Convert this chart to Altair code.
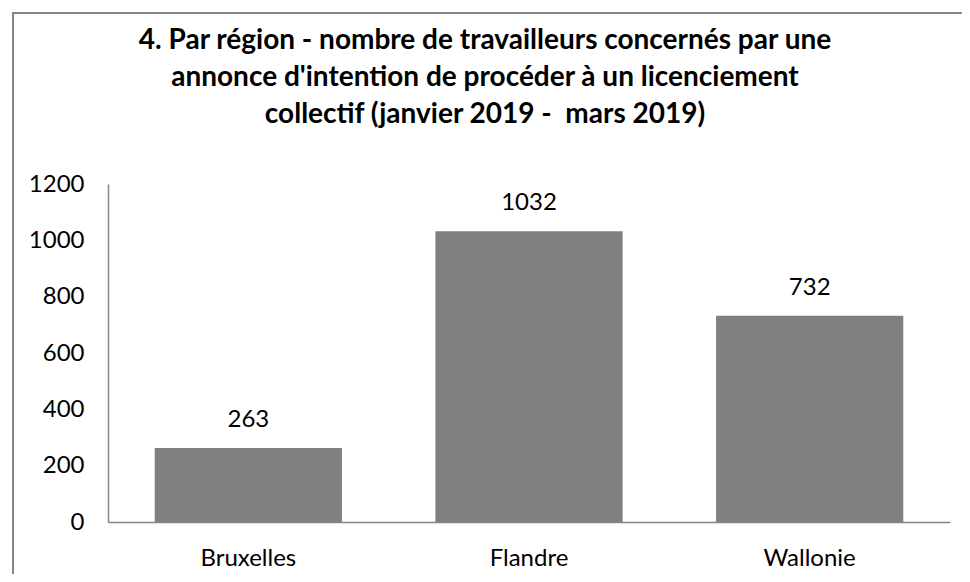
import altair as alt
import pandas as pd

regions = ["Bruxelles", "Flandre", "Wallonie"]
workers = [263, 1032, 732]
title_lines = [
    "4. Par région - nombre de travailleurs concernés par une",
    "annonce d'intention de procéder à un licenciement",
    "collectif (janvier 2019 -\u00a0 mars 2019)",
]
y_ticks = [0, 200, 400, 600, 800, 1000, 1200]

df = pd.DataFrame({"region": regions, "workers": workers})

FONT = "Lato"

base = alt.Chart(df).encode(
    x=alt.X(
        "region:N",
        sort=regions,
        title=None,
        scale=alt.Scale(paddingInner=0.333, paddingOuter=0.1665),
        axis=alt.Axis(
            labelAngle=0,
            ticks=False,
            domainColor="#868686",
            domainWidth=1.5,
            labelFont=FONT,
            labelFontSize=24,
            labelColor="#000000",
            labelPadding=24,
        ),
    ),
    y=alt.Y(
        "workers:Q",
        title=None,
        scale=alt.Scale(domain=[0, 1200], nice=False),
        axis=alt.Axis(
            values=y_ticks,
            format="d",
            grid=False,
            ticks=False,
            domainColor="#868686",
            domainWidth=1.5,
            labelFont=FONT,
            labelFontSize=24,
            labelColor="#000000",
            labelPadding=24,
        ),
    ),
)

bars = base.mark_bar(color="#808080")
labels = base.mark_text(
    baseline="bottom", dy=-16, font=FONT, fontSize=24, color="#000000"
).encode(text="workers:Q")

border = alt.Chart(df).mark_rect(
    fill=None, stroke="#868686", strokeWidth=2, clip=False
).encode(
    x=alt.value(-95), x2=alt.value(880), y=alt.value(-171), y2=alt.value(420)
)

chart = alt.layer(border, bars, labels).properties(
    width=842,
    height=338,
    autosize=alt.AutoSizeParams(type="none"),
    padding={"left": 100, "top": 176, "right": 12, "bottom": 52},
    title=alt.TitleParams(
        text=title_lines,
        font=FONT,
        fontSize=28,
        fontWeight="bold",
        color="#000000",
        anchor="middle",
        dx=-44,
        dy=157,
        lineHeight=37,
        offset=40,
    ),
).configure_view(stroke=None)

chart.save("out.html", embed_options={"renderer": "svg", "actions": False})
